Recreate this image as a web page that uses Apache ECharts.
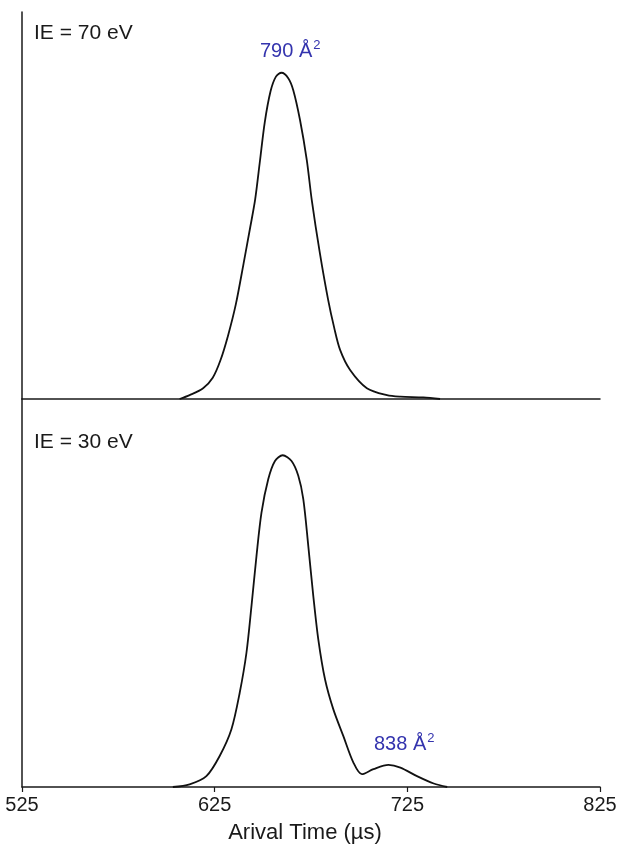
<!DOCTYPE html>
<html>
<head>
	<meta charset="UTF-8">
	<title>Arrival time distributions</title>
	<style>
		html, body { margin:0; padding:0; background:#fff; }
		#chart { width:623px; height:849px; }
	</style>
</head>
<body>
<div id="chart"></div>

<script src="https://cdn.jsdelivr.net/npm/echarts@6/dist/echarts.min.js"></script>
<script type="text/javascript">
	// IE = 70 eV trace (arrival time in us, intensity in % of panel height)
	var time70 = [606.8, 612, 619, 624, 628, 632, 636, 640, 643.5, 646, 648.5, 651, 654, 656.8, 659.7, 663.2, 665.8, 669.3, 672.8, 675.4, 679.5, 683.9, 687, 690.1, 695.3, 704, 714.4, 721.4, 733.3, 742];
	var value70 = [0, 1.0, 2.8, 5.5, 10, 16.5, 24.5, 35, 44.5, 51.5, 61.5, 71.5, 79.5, 83.3, 84.3, 82.9, 79.8, 72.1, 61.8, 51.4, 38, 25.6, 18.5, 12.7, 7.5, 2.8, 1.0, 0.6, 0.4, 0];

	// IE = 30 eV trace
	var time30 = [603.3, 612, 620.7, 627.6, 633.7, 638, 641.5, 644.1, 646.7, 649.3, 652.8, 656.3, 660.3, 664.9, 668.4, 671, 673.6, 676.2, 678.8, 682.3, 686.6, 691.8, 697, 701.4, 707.4, 715.2, 721.4, 730, 738.7, 745.7];
	var value30 = [0, 0.7, 2.8, 8.0, 14.9, 24.3, 34.6, 46.6, 59.5, 70.7, 79.3, 84.0, 85.5, 84.0, 80.2, 74.2, 62.1, 49.2, 38.0, 27.7, 20.0, 13.1, 6.3, 3.3, 4.6, 5.7, 5.0, 2.8, 0.9, 0];

	var xTicks = [525, 625, 725, 825];

	var chart = echarts.init(document.getElementById('chart'));

	function pairs(xs, ys)
	{
		var out = [];
		for (var i = 0; i < xs.length; i++) out.push([xs[i], ys[i]]);
		return out;
	}

	var font = 'Liberation Sans, Arial, sans-serif';
	var blue = '#3434ae';
	var axisLine = { show:true, lineStyle:{ color:'#1a1a1a', width:1.5 } };
	var supRich = { s: { fontSize:13, fontFamily:font, color:blue, padding:[0, 0, 11, 1] } };

	var option =
	{
		animation: false,
		backgroundColor: '#fff',
		title: [
			{ text:'IE = 70 eV', left:34, top:23, padding:0, textStyle:{ fontFamily:font, fontSize:21, fontWeight:'normal', color:'#1a1a1a' } },
			{ text:'IE = 30 eV', left:34, top:432, padding:0, textStyle:{ fontFamily:font, fontSize:21, fontWeight:'normal', color:'#1a1a1a' } },
			{ text:'790 Å{s|2}', left:260, top:39, padding:0, textStyle:{ fontFamily:font, fontSize:20, fontWeight:'normal', color:blue, rich:supRich } },
			{ text:'838 Å{s|2}', left:374, top:732, padding:0, textStyle:{ fontFamily:font, fontSize:20, fontWeight:'normal', color:blue, rich:supRich } }
		],
		grid: [
			{ left:22, right:23, top:12, height:387 },
			{ left:22, right:23, top:399, height:388 }
		],
		xAxis: [
			{
				gridIndex:0, type:'value', min:525, max:825, interval:100,
				axisLine:axisLine, axisTick:{ show:false }, axisLabel:{ show:false }, splitLine:{ show:false }
			},
			{
				gridIndex:1, type:'value', min:xTicks[0], max:xTicks[xTicks.length - 1], interval:100,
				axisLine:axisLine,
				axisTick:{ show:true, length:5, lineStyle:{ color:'#1a1a1a', width:1.2 } },
				axisLabel:{ fontFamily:font, fontSize:20, color:'#1a1a1a', margin:8 },
				splitLine:{ show:false },
				name:'Arival Time (µs)', nameLocation:'middle', nameGap:35,
				nameTextStyle:{ fontFamily:font, fontSize:22, color:'#1a1a1a', padding:[0, 12, 0, 0] }
			}
		],
		yAxis: [
			{ gridIndex:0, type:'value', min:0, max:100, axisLine:axisLine, axisTick:{ show:false }, axisLabel:{ show:false }, splitLine:{ show:false } },
			{ gridIndex:1, type:'value', min:0, max:100, axisLine:axisLine, axisTick:{ show:false }, axisLabel:{ show:false }, splitLine:{ show:false } }
		],
		series: [
			{
				type:'line', xAxisIndex:0, yAxisIndex:0, data:pairs(time70, value70),
				smooth:0.3, showSymbol:false, lineStyle:{ color:'#111', width:1.8 }
			},
			{
				type:'line', xAxisIndex:1, yAxisIndex:1, data:pairs(time30, value30),
				smooth:0.3, showSymbol:false, lineStyle:{ color:'#111', width:1.8 }
			}
		]
	};
	chart.setOption(option);
</script>
</body>
</html>
